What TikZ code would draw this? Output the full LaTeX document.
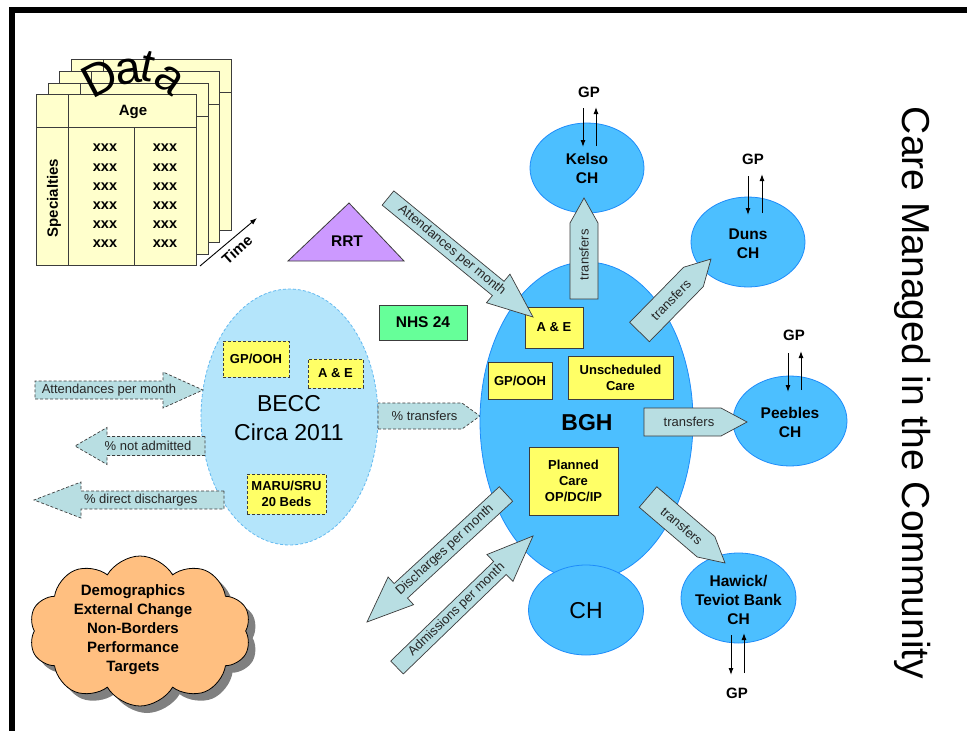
\documentclass[tikz,border=0pt]{standalone}
\usepackage{fontspec}
\setmainfont{Liberation Sans}
\usetikzlibrary{shapes.geometric,shapes.symbols,shadows,arrows.meta}

\definecolor{bghblue}{RGB}{76,191,255}
\definecolor{bghline}{RGB}{30,140,250}
\definecolor{beccblue}{RGB}{180,229,251}
\definecolor{beccline}{RGB}{100,185,240}
\definecolor{boxyellow}{RGB}{255,255,102}
\definecolor{arrowfill}{RGB}{184,222,226}
\definecolor{rrtpurple}{RGB}{204,153,255}
\definecolor{nhsgreen}{RGB}{102,255,153}
\definecolor{sheetyellow}{RGB}{255,255,204}
\definecolor{cloudorange}{RGB}{255,191,128}
\definecolor{edge}{RGB}{60,60,60}

\newcommand{\fsz}[2]{\fontsize{#1}{#2}\selectfont}

% block arrow: [style]{tail}{tip}{shaft half width}{head half width}{head length}{label}
\newcommand{\blockarrow}[7][]{%
  \path (#2); \pgfgetlastxy{\bax}{\bay}%
  \path (#3); \pgfgetlastxy{\bbx}{\bby}%
  \pgfmathsetmacro\baang{atan2(\bby-\bay,\bbx-\bax)}%
  \pgfmathsetmacro\balen{veclen(\bbx-\bax,\bby-\bay)}%
  \pgfmathsetmacro\batxt{\baang>90.5 ? \baang-180 : (\baang<-90.5 ? \baang+180 : \baang)}%
  \pgfmathsetmacro\bapos{(\balen-#6/2)/2}%
  \pgfmathsetmacro\babase{\balen-#6}%
  \begin{scope}[shift={(#2)},rotate=\baang]
    \path[blockarrow,#1] (0,#4) -- (\babase,#4) -- (\babase,#5) -- (\balen,0)
      -- (\babase,-#5) -- (\babase,-#4) -- (0,-#4) -- cycle;
    \node[arrowlabel,rotate=\batxt] at (\bapos,0) {#7};
  \end{scope}}

% one sheet of the data stack, shifted by (#1,#2)
\newcommand{\datasheet}[2]{%
  \begin{scope}[shift={(#1,#2)}]
    \filldraw[sheet] (36,94) rectangle (196,265);
    \draw[sheet] (36,127) -- (196,127);
    \draw[sheet] (68,94) -- (68,265);
    \draw[sheet] (134,127) -- (134,265);
  \end{scope}}

\begin{document}
\begin{tikzpicture}[x=1pt,y=-1pt,
  blockarrow/.style={draw=edge,fill=arrowfill,line width=0.7pt,line join=miter},
  dashedarrow/.style={dash pattern=on 3pt off 2pt},
  arrowlabel/.style={font=\fsz{13}{15},inner sep=0pt,text=black!85},
  sheet/.style={draw=edge,fill=sheetyellow,line width=0.7pt},
  ybox/.style={draw=edge,fill=boxyellow,line width=0.8pt,inner sep=0pt,align=center,font=\bfseries\fsz{13}{16}},
  dbox/.style={ybox,dash pattern=on 3pt off 2pt},
  hosp/.style={ellipse,draw=bghline,fill=bghblue,line width=0.8pt,inner sep=0pt},
  hosptext/.style={align=center,font=\bfseries\fsz{15.5}{19},inner sep=0pt},
  gptext/.style={font=\bfseries\fsz{15}{18},inner sep=0pt},
  gparrow/.style={-{Latex[length=7pt,width=5pt]},line width=1pt},
  tabtext/.style={font=\bfseries\fsz{14.5}{17},inner sep=0pt},
  archletter/.style={font=\fsz{46}{46},inner sep=0pt}]

\useasboundingbox (0,0) rectangle (967,731);

% frame bars
\fill (9,7) rectangle (967,13);
\fill (9,7) rectangle (15,731);

% ---------- data stack ----------
\datasheet{35}{-35}
\datasheet{23}{-23}
\datasheet{12}{-11}
\datasheet{0}{0}
\node[font=\bfseries\fsz{15}{18}] (age) at (133,112) {Age};
\node[font=\bfseries\fsz{15}{18},rotate=90] (spec) at (54,198) {Specialties};
\foreach \i in {0,...,5}{
  \node[tabtext] (xa\i) at (105,{148+19.2*\i}) {xxx};
  \node[tabtext] (xb\i) at (165,{148+19.2*\i}) {xxx};
}
% arched heading
\node[archletter,rotate=28] (dD) at (100,78) {D};
\node[archletter,rotate=8] (da1) at (128,72) {a};
\node[archletter,rotate=-12] (dt) at (148,66) {t};
\node[archletter,rotate=-35] (da2) at (169,80) {a};
% time axis
\coordinate (t0) at (200,266);
\coordinate (t1) at (257,218);
\draw[-{Latex[length=7pt,width=5pt]},line width=0.9pt] (t0) -- (t1);
\node[font=\bfseries\fsz{15}{18},rotate=42] (time) at (237,250) {Time};

% ---------- RRT and NHS 24 ----------
\draw[draw=edge,fill=rrtpurple,line width=0.8pt] (349,203) -- (404,261) -- (288,261) -- cycle;
\node[font=\bfseries\fsz{15.5}{18}] (rrt) at (347,241) {RRT};
\node[draw=edge,fill=nhsgreen,line width=0.9pt,minimum width=88pt,minimum height=35pt,
  inner sep=0pt,font=\bfseries\fsz{15.5}{18}] (nhs) at (423,322.5) {NHS 24};

% ---------- BECC ----------
\node[ellipse,fill=beccblue,draw=beccline,dash pattern=on 3pt off 2pt,line width=0.8pt,
  minimum width=177pt,minimum height=256pt,inner sep=0pt] (becc) at (289.5,417) {};
\node[align=center,font=\fsz{23}{29},inner sep=0pt] (becctext) at (289,418) {BECC\\Circa 2011};
\node[dbox,minimum width=66pt,minimum height=36pt] (bgpooh) at (256,359) {GP/OOH};
\node[dbox,minimum width=55pt,minimum height=29pt] (bae) at (335.5,373.5) {A \& E};
\node[dbox,minimum width=79pt,minimum height=40pt] (maru) at (286.5,494) {MARU/SRU\\20 Beds};

\coordinate (att0) at (35,390);   \coordinate (att1) at (203,390);
\coordinate (nad0) at (205,446);  \coordinate (nad1) at (75,446);
\coordinate (dd0) at (224,500);   \coordinate (dd1) at (34,500);
\coordinate (pt0) at (378,416);   \coordinate (pt1) at (480,416);
\blockarrow[dashedarrow]{att0}{att1}{9}{18}{40}{Attendances per month}
\blockarrow[dashedarrow]{nad0}{nad1}{9.5}{18.5}{32}{\% not admitted}
\blockarrow[dashedarrow]{dd0}{dd1}{9}{18}{47}{\% direct discharges}
\blockarrow[dashedarrow]{pt0}{pt1}{13}{13}{18}{\% transfers}

% ---------- BGH and community hospitals ----------
\node[hosp,minimum width=213pt,minimum height=318pt] (bgh) at (586.5,421) {};
\node[hosp,minimum width=115pt,minimum height=90pt] (ch) at (586,610) {};
\node[font=\fsz{23}{26},inner sep=0pt] (chtext) at (586,611) {CH};
\node[font=\bfseries\fsz{23}{26},inner sep=0pt] (bghtext) at (587,423) {BGH};

\node[ybox,minimum width=58pt,minimum height=41pt] (ae) at (554,327.5) {A \& E};
\node[ybox,minimum width=64pt,minimum height=37pt] (gpooh) at (520,380.5) {GP/OOH};
\node[ybox,minimum width=105pt,minimum height=43pt] (unsched) at (620.5,377.5) {Unscheduled\\Care};
\node[ybox,minimum width=89pt,minimum height=68pt] (planned) at (573.5,481) {Planned\\Care\\OP/DC/IP};

\node[hosp,minimum width=114pt,minimum height=90pt] (kelso) at (587,168) {};
\node[hosptext] at (kelso.center) {Kelso\\CH};
\node[hosp,minimum width=114pt,minimum height=90pt] (duns) at (748,242) {};
\node[hosptext] at (748,243.5) {Duns\\CH};
\node[hosp,minimum width=114pt,minimum height=90pt] (peebles) at (790,421) {};
\node[hosptext] at (790,422) {Peebles\\CH};
\node[hosp,minimum width=115pt,minimum height=90pt] (hawick) at (738.5,598) {};
\node[hosptext] at (738.5,600) {Hawick/\\Teviot Bank\\CH};

% GP links
\node[gptext] (kgp) at (589,92) {GP};
\coordinate (kd0) at (583,108); \coordinate (kd1) at (583,147);
\coordinate (ku0) at (596,146); \coordinate (ku1) at (596,107);
\draw[gparrow] (kd0) -- (kd1); \draw[gparrow] (ku0) -- (ku1);

\node[gptext] (dgp) at (753,159) {GP};
\coordinate (dd0g) at (748,176); \coordinate (dd1g) at (748,215);
\coordinate (du0) at (762,213); \coordinate (du1) at (762,174);
\draw[gparrow] (dd0g) -- (dd1g); \draw[gparrow] (du0) -- (du1);

\node[gptext] (pgp) at (794,335) {GP};
\coordinate (pd0) at (788,353); \coordinate (pd1) at (788,392);
\coordinate (pu0) at (801,390); \coordinate (pu1) at (801,351);
\draw[gparrow] (pd0) -- (pd1); \draw[gparrow] (pu0) -- (pu1);

\node[gptext] (hgp) at (737,693) {GP};
\coordinate (hd0) at (731,635); \coordinate (hd1) at (731,675);
\coordinate (hu0) at (744,673); \coordinate (hu1) at (744,633);
\draw[gparrow] (hd0) -- (hd1); \draw[gparrow] (hu0) -- (hu1);

% flows in and out of BGH
\coordinate (am0) at (388,198);   \coordinate (am1) at (533,317);
\coordinate (kt0) at (584,299);   \coordinate (kt1) at (584,198);
\coordinate (dt0) at (639.5,332); \coordinate (dt1) at (711,259);
\coordinate (ptr0) at (644,422);  \coordinate (ptr1) at (747,422);
\coordinate (ht0) at (648,497);   \coordinate (ht1) at (725,563);
\coordinate (dis0) at (506,494);  \coordinate (dis1) at (367,622);
\coordinate (adm0) at (397,667.5);\coordinate (adm1) at (533,536);
\blockarrow{am0}{am1}{9.2}{18.5}{45}{Attendances per month}
\blockarrow{kt0}{kt1}{14}{14}{25}{transfers}
\blockarrow{dt0}{dt1}{13.8}{13.8}{25}{transfers}
\blockarrow{ptr0}{ptr1}{14}{14}{26}{transfers}
\blockarrow{ht0}{ht1}{13.5}{13.5}{25}{transfers}
\blockarrow{dis0}{dis1}{9.9}{18.8}{46}{Discharges per month}
\blockarrow{adm0}{adm1}{9}{18.7}{46}{Admissions per month}

% ---------- external factors ----------
\node[cloud,cloud puffs=10,cloud puff arc=120,cloud ignores aspect,draw=black,line width=0.8pt,
  fill=cloudorange,minimum width=222pt,minimum height=150pt,
  drop shadow={shadow xshift=7pt,shadow yshift=-7pt,opacity=1,fill=black!50}] (cloud) at (140,631) {};
\node[align=center,font=\bfseries\fsz{15}{19},inner sep=0pt] (cloudtext) at (133,629.5)
  {Demographics\\External Change\\Non-Borders\\Performance\\Targets};

% ---------- side title ----------
\node[rotate=-90,font=\fsz{39}{40},inner sep=0pt] (title) at (913,393) {Care Managed in the Community};
\end{tikzpicture}
\end{document}
